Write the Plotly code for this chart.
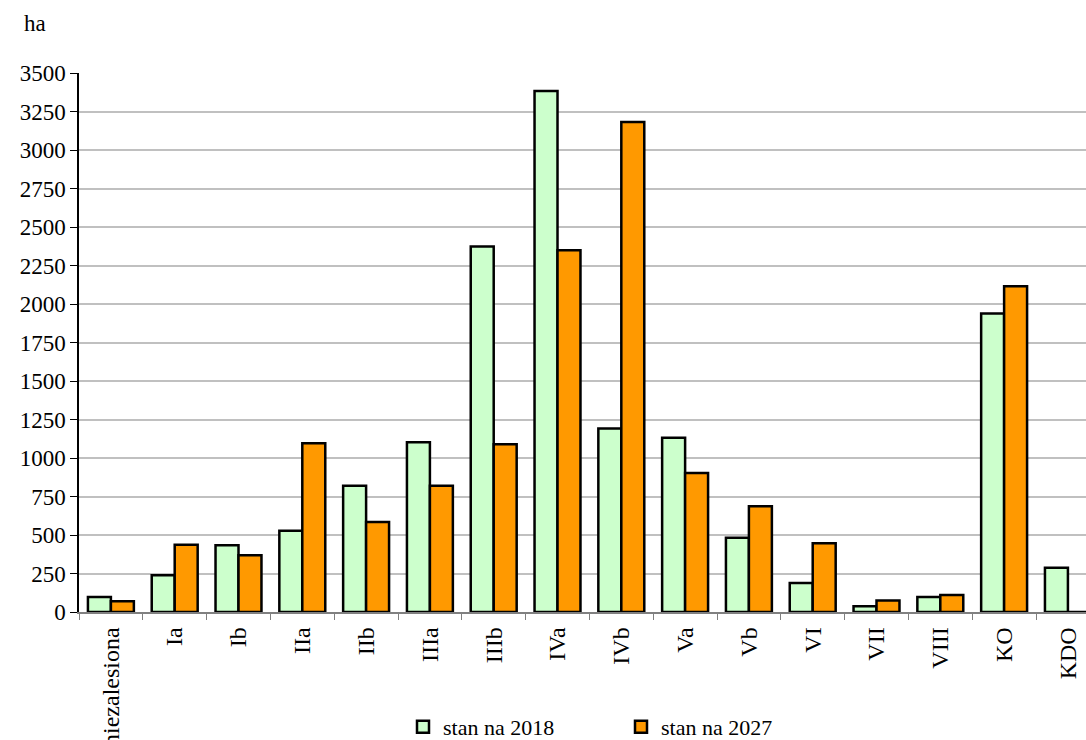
import plotly.graph_objects as go

categories = ["niezalesiona", "Ia", "Ib", "IIa", "IIb", "IIIa", "IIIb", "IVa", "IVb",
              "Va", "Vb", "VI", "VII", "VIII", "KO", "KDO"]
stan_2018 = [98, 239, 434, 527, 820, 1103, 2374, 3384, 1191, 1131, 483, 188, 37, 97, 1939, 288]
stan_2027 = [70, 437, 369, 1096, 585, 820, 1089, 2350, 3182, 903, 687, 446, 74, 111, 2116, 0]
y_ticks = list(range(0, 3501, 250))

FONT = "Liberation Serif, Times New Roman, serif"

fig = go.Figure()
fig.add_trace(go.Bar(x=categories, y=stan_2018, name="stan na 2018",
                     marker=dict(color="#ccffcc", line=dict(color="black", width=2.5))))
fig.add_trace(go.Bar(x=categories, y=stan_2027, name="stan na 2027",
                     marker=dict(color="#ff9900", line=dict(color="black", width=2.5))))

W, H = 1086, 740
left, right_px, top, bottom = 78.7, 1086, 72.7, 612.3
cat_w = 63.82
x_hi = -0.5 + (right_px - left) / cat_w

fig.update_layout(
    width=W, height=H,
    margin=dict(l=left, r=W - right_px, t=top, b=H - bottom, autoexpand=False),
    paper_bgcolor="white", plot_bgcolor="white",
    barmode="group", bargap=0.28, bargroupgap=0,
    font=dict(family=FONT, size=22, color="black"),
    showlegend=True,
    legend=dict(orientation="h", xref="container", yref="container",
                x=403 / W, xanchor="left", y=(H - 727) / H, yanchor="middle",
                entrywidth=173, entrywidthmode="pixels", itemwidth=30,
                font=dict(family=FONT, size=22), bgcolor="rgba(0,0,0,0)"),
    annotations=[dict(text="ha", xref="paper", yref="paper",
                      x=(21.7 - left) / (right_px - left), y=1 + (top - 23) / (bottom - top),
                      xanchor="left", yanchor="middle", showarrow=False,
                      font=dict(family=FONT, size=23))],
)

fig.update_xaxes(type="category", range=[-0.5, x_hi], tickangle=-90,
                 tickson="boundaries", ticks="outside", ticklen=6, tickcolor="#808080",
                 showline=True, linecolor="#808080", linewidth=1.5,
                 showgrid=False, fixedrange=True, automargin=False,
                 ticklabelstandoff=4,
                 tickfont=dict(family=FONT, size=24))
fig.update_yaxes(range=[0, 3500.5], tickvals=y_ticks, ticks="outside", ticklen=7,
                 tickcolor="black", showline=True, linecolor="black", linewidth=1.5,
                 showgrid=True, gridcolor="#c0c0c0", gridwidth=2,
                 zeroline=False, automargin=False, fixedrange=True,
                 tickfont=dict(family=FONT, size=23))

fig.write_html("out.html", config={"displayModeBar": False},
               post_script="document.body.style.margin='0';document.body.style.overflow='hidden';")
